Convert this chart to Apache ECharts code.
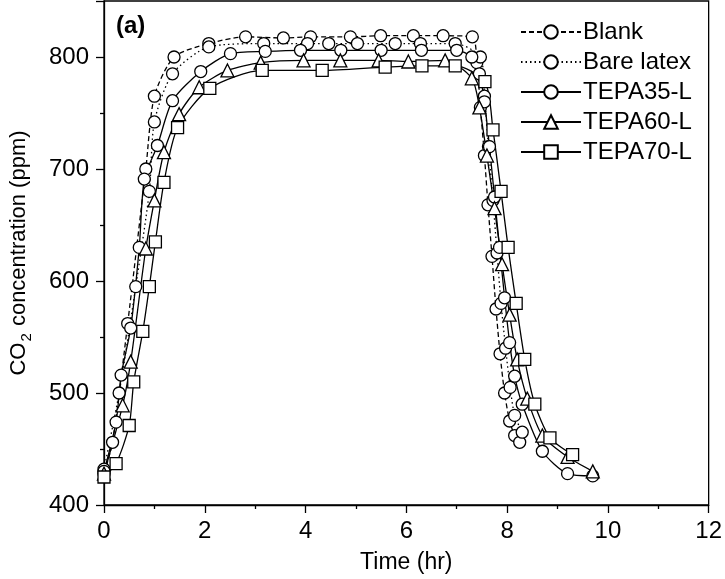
<!DOCTYPE html>
<html>
<head>
<meta charset="utf-8">
<script src="https://cdn.jsdelivr.net/npm/echarts@6/dist/echarts.min.js"></script>
<style>
  html, body { margin: 0; padding: 0; background: #fff; }
  #chart { width: 725px; height: 579px; }
</style>
</head>
<body>
<div id="chart"></div>
<script>
// time (hr) and CO2 (ppm)
const blankX = [0, 0.17, 0.47, 0.83, 1.0, 1.39, 2.08, 2.81, 3.56, 4.1, 4.89, 5.49, 6.14, 6.73, 7.31, 7.4, 7.47, 7.55, 7.62, 7.7, 7.78, 7.86, 7.95, 8.05, 8.15, 8.25];
const blankY = [428, 456, 562, 700, 765, 800, 812, 818, 817, 818, 818, 819, 819, 819, 818, 795, 755, 712, 668, 622, 575, 535, 500, 475, 462, 456];

const bareX = [0, 0.3, 0.63, 0.9, 1.0, 1.36, 2.08, 3.17, 4.04, 4.46, 5.03, 5.78, 6.28, 6.97, 7.47, 7.55, 7.63, 7.72, 7.8, 7.88, 7.97, 8.06, 8.15, 8.3];
const bareY = [432, 500, 595, 680, 742, 785, 809, 812, 812, 812, 812, 812, 812, 812, 800, 765, 720, 672, 625, 580, 540, 505, 480, 465];

const tepa35X = [0, 0.24, 0.34, 0.53, 0.7, 0.8, 1.06, 1.36, 1.92, 2.51, 3.2, 3.9, 4.7, 5.5, 6.3, 7.0, 7.3, 7.45, 7.55, 7.65, 7.75, 7.85, 7.95, 8.05, 8.15, 8.3, 8.7, 9.2, 9.7];
const tepa35Y = [430, 474, 516, 558, 630, 691, 721, 761, 787, 803, 805, 806, 806, 806, 806, 806, 800, 785, 760, 720, 675, 630, 585, 545, 515, 490, 448, 428, 426];

const tepa60X = [0, 0.37, 0.53, 0.83, 1.0, 1.19, 1.49, 1.89, 2.45, 3.11, 3.96, 4.69, 5.45, 6.04, 6.77, 7.3, 7.45, 7.6, 7.75, 7.9, 8.05, 8.2, 8.4, 8.7, 9.2, 9.7];
const tepa60Y = [428, 489, 528, 629, 672, 715, 749, 773, 788, 795, 797, 797, 797, 796, 797, 781, 755, 712, 665, 615, 570, 530, 495, 462, 443, 430];

const tepa70X = [0, 0.24, 0.5, 0.59, 0.77, 0.9, 1.02, 1.19, 1.46, 2.1, 3.14, 4.33, 5.58, 6.31, 6.97, 7.56, 7.72, 7.88, 8.02, 8.18, 8.35, 8.55, 8.85, 9.3];
const tepa70Y = [425, 437, 471, 510, 555, 595, 635, 688, 737, 772, 788, 788, 791, 792, 792, 778, 735, 680, 630, 580, 530, 490, 460, 445];

const seriesNames = ['Blank', 'Bare latex', 'TEPA35-L', 'TEPA60-L', 'TEPA70-L'];

const zip = (xs, ys) => xs.map((x, i) => [x, ys[i]]);

const chart = echarts.init(document.getElementById('chart'));

const font = 'Liberation Sans, Arial, sans-serif';

function makeSeries(name, xs, ys, symbol, dash) {
  return {
    name: name,
    type: 'line',
    data: zip(xs, ys),
    smooth: 0.25,
    symbol: symbol,
    symbolSize: symbol === 'triangle' ? 13 : 12,
    showAllSymbol: true,
    lineStyle: { color: '#000', width: 1.3, type: dash },
    itemStyle: { color: '#fff', borderColor: '#000', borderWidth: 1.3 }
  };
}

const option = {
  animation: false,
  backgroundColor: '#fff',
  textStyle: { fontFamily: font, color: '#000' },
  title: {
    text: '(a)',
    left: 111,
    top: 9,
    textStyle: { fontFamily: font, fontSize: 24, fontWeight: 'bold', color: '#000' }
  },
  legend: {
    orient: 'vertical',
    left: 520,
    top: 20,
    padding: 0,
    itemWidth: 60,
    itemHeight: 17,
    itemGap: 6,
    data: seriesNames,
    textStyle: { fontFamily: font, fontSize: 24, color: '#000', padding: [0, 0, 0, -3] }
  },
  grid: {
    left: 103,
    right: 15,
    top: 1,
    bottom: 74,
    show: true,
    borderColor: '#000',
    borderWidth: 1.3
  },
  xAxis: {
    type: 'value',
    min: 0,
    max: 12,
    interval: 2,
    name: 'Time (hr)',
    nameLocation: 'middle',
    nameGap: 46,
    nameTextStyle: { fontFamily: font, fontSize: 23, color: '#000' },
    axisLine: { lineStyle: { color: '#000', width: 1.3 } },
    axisTick: { show: true, length: 8, lineStyle: { color: '#000', width: 1.3 } },
    minorTick: { show: true, splitNumber: 2, length: 4, lineStyle: { color: '#000', width: 1.3 } },
    axisLabel: { fontFamily: font, fontSize: 24, color: '#000', margin: 14 },
    splitLine: { show: false }
  },
  yAxis: {
    type: 'value',
    min: 400,
    max: 850,
    interval: 100,
    name: '{a|CO}{b|2}{a| concentration (ppm)}',
    nameLocation: 'middle',
    nameGap: 74,
    nameTextStyle: {
      fontFamily: font, fontSize: 22, color: '#000',
      rich: {
        a: { fontFamily: font, fontSize: 22, color: '#000', lineHeight: 26, verticalAlign: 'bottom' },
        b: { fontFamily: font, fontSize: 15, color: '#000', lineHeight: 26, verticalAlign: 'bottom', padding: [0, 1, -4, 1] }
      }
    },
    axisLine: { lineStyle: { color: '#000', width: 1.3 } },
    axisTick: { show: true, length: 8, lineStyle: { color: '#000', width: 1.3 } },
    minorTick: { show: true, splitNumber: 2, length: 4, lineStyle: { color: '#000', width: 1.3 } },
    axisLabel: { fontFamily: font, fontSize: 24, color: '#000', margin: 15, showMaxLabel: false },
    splitLine: { show: false }
  },
  series: [
    makeSeries(seriesNames[0], blankX, blankY, 'circle', [5, 3]),
    makeSeries(seriesNames[1], bareX, bareY, 'circle', [1.5, 3]),
    makeSeries(seriesNames[2], tepa35X, tepa35Y, 'circle', 'solid'),
    makeSeries(seriesNames[3], tepa60X, tepa60Y, 'triangle', 'solid'),
    makeSeries(seriesNames[4], tepa70X, tepa70Y, 'rect', 'solid')
  ]
};

chart.setOption(option);
window.addEventListener('resize', () => chart.resize());
</script>
</body>
</html>
